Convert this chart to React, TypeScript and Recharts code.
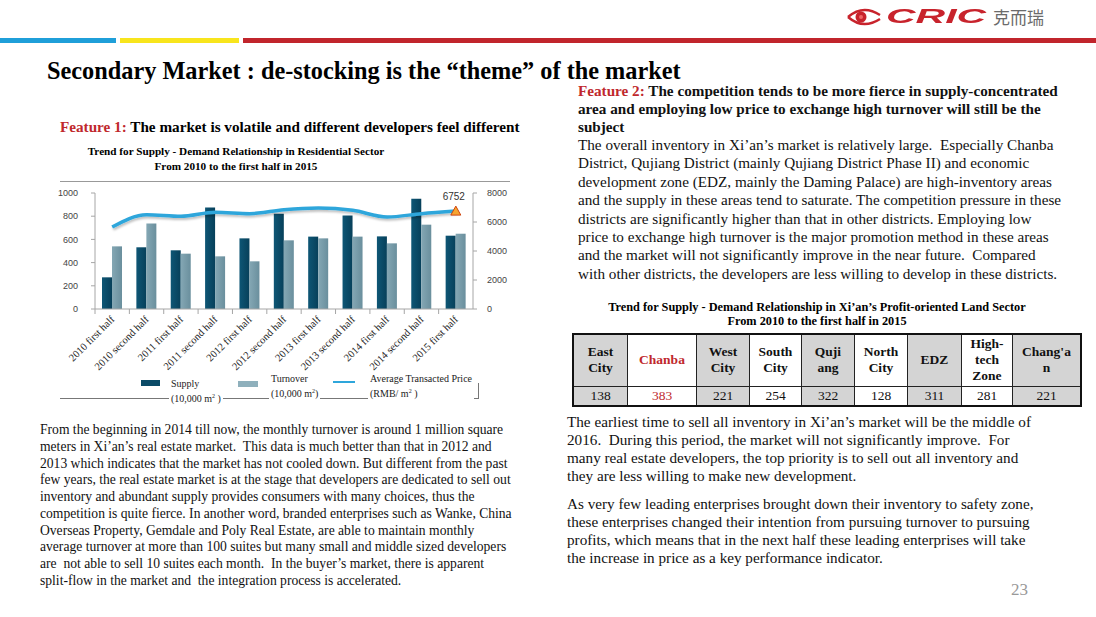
import * as React from "react";
import {
  ComposedChart,
  Bar,
  Line,
  XAxis,
  YAxis,
} from "recharts";

const periods = [
  "2010 first half",
  "2010 second half",
  "2011 first half",
  "2011 second half",
  "2012 first half",
  "2012 second half",
  "2013 first half",
  "2013 second half",
  "2014 first half",
  "2014 second half",
  "2015 first half",
];
const supply = [273, 532, 506, 876, 609, 822, 624, 805, 626, 951, 632];
const turnover = [540, 736, 477, 454, 411, 592, 609, 624, 566, 727, 649];
const avgPrice = [5655, 6506, 6391, 6667, 6575, 6851, 6966, 6805, 6345, 6575, 6752];
const leftTicks = [0, 200, 400, 600, 800, 1000];
const rightTicks = [0, 2000, 4000, 6000, 8000];

const districts = ["East City", "Chanba", "West City", "South City", "Quji ang", "North City", "EDZ", "High- tech Zone", "Chang'a n"];
const inventory = [138, 383, 221, 254, 322, 128, 311, 281, 221];

const chartData = periods.map((name, i) => ({
  name,
  supply: supply[i],
  turnover: turnover[i],
  price: avgPrice[i],
}));

const SERIF = '"Liberation Serif", "Times New Roman", serif';
const RED = "#c0282d";
const SUPPLY_COLOR = "#0b4b67";
const LINE_COLOR = "#2ea6db";

const feature2Lines = [
  "area and employing low price to exchange high turnover will still be the",
  "subject",
];
const feature2Body = [
  "The overall inventory in Xi\u2019an\u2019s market is relatively large.  Especially Chanba",
  "District, Qujiang District (mainly Qujiang District Phase II) and economic",
  "development zone (EDZ, mainly the Daming Palace) are high-inventory areas",
  "and the supply in these areas tend to saturate. The competition pressure in these",
  "districts are significantly higher than that in other districts. Employing low",
  "price to exchange high turnover is the major promotion method in these areas",
  "and the market will not significantly improve in the near future.  Compared",
  "with other districts, the developers are less willing to develop in these districts.",
];
const leftParagraph = [
  "From the beginning in 2014 till now, the monthly turnover is around 1 million square",
  "meters in Xi\u2019an\u2019s real estate market.  This data is much better than that in 2012 and",
  "2013 which indicates that the market has not cooled down. But different from the past",
  "few years, the real estate market is at the stage that developers are dedicated to sell out",
  "inventory and abundant supply provides consumers with many choices, thus the",
  "competition is quite fierce. In another word, branded enterprises such as Wanke, China",
  "Overseas Property, Gemdale and Poly Real Estate, are able to maintain monthly",
  "average turnover at more than 100 suites but many small and middle sized developers",
  "are  not able to sell 10 suites each month.  In the buyer\u2019s market, there is apparent",
  "split-flow in the market and  the integration process is accelerated.",
];
const rightPara1 = [
  "The earliest time to sell all inventory in Xi\u2019an\u2019s market will be the middle of",
  "2016.  During this period, the market will not significantly improve.  For",
  "many real estate developers, the top priority is to sell out all inventory and",
  "they are less willing to make new development.",
];
const rightPara2 = [
  "As very few leading enterprises brought down their inventory to safety zone,",
  "these enterprises changed their intention from pursuing turnover to pursuing",
  "profits, which means that in the next half these leading enterprises will take",
  "the increase in price as a key performance indicator.",
];

function Lines({ lines, left, top, lh, size }: { lines: string[]; left: number; top: number; lh: number; size: number }) {
  return (
    <div style={{ position: "absolute", left, top, fontFamily: SERIF, fontSize: size, lineHeight: `${lh}px`, color: "#111" }}>
      {lines.map((l, i) => (
        <div key={i} style={{ whiteSpace: "pre" }}>{l}</div>
      ))}
    </div>
  );
}

const CategoryTick = (props: any) => {
  const { x, y, payload, width, visibleTicksCount } = props;
  const band = width / visibleTicksCount;
  return (
    <g>
      <line x1={x - band / 2} x2={x - band / 2} y1={y} y2={y + 5} stroke="#a6a6a6" />
      <text
        x={x + 3}
        y={y + 11}
        transform={`rotate(-45, ${x + 3}, ${y + 11})`}
        textAnchor="end"
        fontFamily={SERIF}
        fontSize={10.5}
        fill="#222"
      >
        {payload.value}
      </text>
    </g>
  );
};

const lastIndex = avgPrice.length - 1;
const PriceDot = (props: any) => {
  const { cx, cy, index, value } = props;
  if (index !== lastIndex) return <g key={`d${index}`} />;
  return (
    <g key={`d${index}`}>
      <path d={`M${cx},${cy - 5} L${cx + 5},${cy + 4} L${cx - 5},${cy + 4} Z`} fill="#f6a531" stroke="#d0450f" strokeWidth={1} />
      <text x={cx - 2} y={cy - 11} textAnchor="middle" fontFamily='"Liberation Sans", Arial, sans-serif' fontSize={10} fill="#333">
        {value}
      </text>
    </g>
  );
};

function SupplyChart() {
  return (
    <ComposedChart
      width={470}
      height={196}
      data={chartData}
      margin={{ top: 10, right: 7, bottom: 0, left: 0 }}
      barGap={0}
      barCategoryGap="40%"
    >
      <defs>
        <linearGradient id="gSupply" x1="0" y1="0" x2="1" y2="0">
          <stop offset="0%" stopColor="#0e5675" />
          <stop offset="100%" stopColor="#07405a" />
        </linearGradient>
        <linearGradient id="gTurnover" x1="0" y1="0" x2="1" y2="0">
          <stop offset="0%" stopColor="#84a7b4" />
          <stop offset="100%" stopColor="#6a8f9d" />
        </linearGradient>
        <filter id="lineShadow" x="-5%" y="-50%" width="110%" height="200%">
          <feDropShadow dx="1" dy="2" stdDeviation="1.2" floodColor="#000" floodOpacity="0.25" />
        </filter>
      </defs>
      <XAxis
        dataKey="name"
        interval={0}
        height={70}
        tickSize={0}
        tickMargin={0}
        tick={<CategoryTick />}
        axisLine={{ stroke: "#a6a6a6" }}
      />
      <YAxis
        yAxisId="left"
        width={45}
        domain={[0, 1000]}
        ticks={leftTicks}
        tickSize={4}
        tickMargin={13}
        tick={{ fontFamily: '"Liberation Sans", Arial, sans-serif', fontSize: 9, fill: "#444" }}
        tickLine={{ stroke: "#a6a6a6" }}
        axisLine={{ stroke: "#a6a6a6" }}
      />
      <YAxis
        yAxisId="right"
        orientation="right"
        width={40}
        domain={[0, 8000]}
        ticks={rightTicks}
        tickSize={4}
        tickMargin={10}
        tick={{ fontFamily: '"Liberation Sans", Arial, sans-serif', fontSize: 9, fill: "#444", textAnchor: "start" }}
        tickLine={{ stroke: "#a6a6a6" }}
        axisLine={{ stroke: "#a6a6a6" }}
      />
      <Bar yAxisId="left" dataKey="supply" barSize={10} fill="url(#gSupply)" isAnimationActive={false} />
      <Bar yAxisId="left" dataKey="turnover" barSize={10} fill="url(#gTurnover)" isAnimationActive={false} />
      <Line
        yAxisId="right"
        type="monotone"
        dataKey="price"
        stroke={LINE_COLOR}
        strokeWidth={3.5}
        dot={PriceDot}
        activeDot={false}
        filter="url(#lineShadow)"
        isAnimationActive={false}
      />
    </ComposedChart>
  );
}

function ChartLegend() {
  const txt: React.CSSProperties = { position: "absolute", fontFamily: SERIF, fontSize: 10, lineHeight: "13px", color: "#222", background: "#fff", padding: "0 2px", whiteSpace: "nowrap" };
  return (
    <>
      <div style={{ position: "absolute", left: 60, top: 398, width: 418, height: 1, background: "#777" }} />
      <div style={{ position: "absolute", left: 478, top: 383, width: 1, height: 16, background: "#777" }} />
      <div style={{ position: "absolute", left: 141, top: 380, width: 19, height: 6, background: SUPPLY_COLOR }} />
      <div style={{ ...txt, left: 169, top: 377 }}>Supply<br />(10,000 m<sup style={{ fontSize: 6 }}>2</sup> )</div>
      <div style={{ position: "absolute", left: 238, top: 381, width: 20, height: 6, background: "#8fb0bc" }} />
      <div style={{ ...txt, left: 269, top: 372 }}>Turnover<br />(10,000 m<sup style={{ fontSize: 6 }}>2</sup>)</div>
      <div style={{ position: "absolute", left: 333, top: 381, width: 22, height: 2, background: LINE_COLOR }} />
      <div style={{ ...txt, left: 368, top: 372 }}>Average Transacted  Price<br />(RMB/ m<sup style={{ fontSize: 6 }}>2</sup> )</div>
    </>
  );
}

function Logo() {
  return (
    <div style={{ position: "absolute", left: 846, top: 4, height: 26, width: 240, whiteSpace: "nowrap" }}>
      <svg width={36} height={22} style={{ position: "absolute", left: 0, top: 2 }}>
        <path d="M2,11 Q17,-2 34,9" stroke="#c8232c" strokeWidth={2.4} fill="none" />
        <path d="M2,11 Q17,24 34,13" stroke="#c8232c" strokeWidth={2.4} fill="none" />
        <circle cx={15} cy={11} r={5.5} fill="#c8232c" />
        <circle cx={15} cy={11} r={2} fill="#e66" />
      </svg>
      <div
        style={{
          position: "absolute",
          left: 40,
          top: 0,
          fontFamily: '"Liberation Sans", Arial, sans-serif',
          fontWeight: 900,
          fontStyle: "italic",
          fontSize: 21,
          color: "#c8232c",
          transform: "scaleX(1.95)",
          transformOrigin: "left center",
        }}
      >
        CRIC
      </div>
      <div style={{ position: "absolute", left: 147, top: 2, fontFamily: '"Noto Sans CJK SC", sans-serif', fontSize: 17, lineHeight: "22px", color: "#6b6b6b", whiteSpace: "nowrap" }}>
        克而瑞
      </div>
    </div>
  );
}

function DistrictTable() {
  const colWidths = [53, 68, 52, 51, 52, 52, 53, 50, 67];
  const cell = (i: number): React.CSSProperties => ({
    border: "1px solid #222",
    background: i % 2 === 0 ? "#d4d4d4" : "#fff",
    color: i === 1 ? RED : "#111",
    textAlign: "center",
    padding: 0,
    width: colWidths[i],
  });
  return (
    <table
      style={{
        position: "absolute",
        left: 572,
        top: 333,
        borderCollapse: "collapse",
        border: "2px solid #111",
        fontFamily: SERIF,
        tableLayout: "fixed",
        width: 500,
      }}
    >
      <tbody>
        <tr style={{ height: 52 }}>
          {districts.map((d, i) => {
            const parts = d.split(" ");
            return (
              <td key={d} style={{ ...cell(i), fontWeight: 700, fontSize: 13.5, lineHeight: "16px" }}>
                {parts.length > 1 ? parts.map((p, k) => <div key={k}>{p}</div>) : d}
              </td>
            );
          })}
        </tr>
        <tr style={{ height: 20 }}>
          {inventory.map((v, i) => (
            <td key={i} style={{ ...cell(i), fontSize: 13.5, lineHeight: "18px" }}>{v}</td>
          ))}
        </tr>
      </tbody>
    </table>
  );
}

export default function App() {
  return (
    <div style={{ position: "absolute", left: 0, top: 0, width: 1096, height: 617, background: "#fff", overflow: "hidden", fontFamily: SERIF }}>
      <Logo />
      <div style={{ position: "absolute", left: 0, top: 38, width: 116, height: 5, background: "#1f9fd9" }} />
      <div style={{ position: "absolute", left: 120, top: 38, width: 119, height: 5, background: "#f8e51d" }} />
      <div style={{ position: "absolute", left: 243, top: 38, width: 853, height: 5, background: "#c1252c" }} />

      <div style={{ position: "absolute", left: 47, top: 60, fontSize: 24.3, fontWeight: 700, lineHeight: "22px", color: "#000", whiteSpace: "nowrap" }}>
        Secondary Market : de-stocking is the {"\u201c"}theme{"\u201d"} of the market
      </div>

      <div style={{ position: "absolute", left: 60, top: 118, fontSize: 15.2, fontWeight: 700, lineHeight: "18px", whiteSpace: "nowrap" }}>
        <span style={{ color: RED }}>Feature 1: </span>The market is volatile and different developers feel different
      </div>
      <div style={{ position: "absolute", left: 60, top: 144, width: 352, textAlign: "center", fontSize: 11.2, fontWeight: 700, lineHeight: "15px", whiteSpace: "nowrap" }}>
        Trend for Supply - Demand Relationship in Residential Sector
        <br />
        From 2010 to the first half in 2015
      </div>
      <div style={{ position: "absolute", left: 60, top: 181, width: 450, height: 1, background: "#999" }} />
      <div style={{ position: "absolute", left: 50, top: 183 }}>
        <SupplyChart />
      </div>
      <ChartLegend />

      <div style={{ position: "absolute", left: 578, top: 82, fontSize: 15.2, fontWeight: 700, lineHeight: "18.2px", whiteSpace: "nowrap", color: "#111" }}>
        <div>
          <span style={{ color: RED }}>Feature 2: </span>The competition tends to be more fierce in supply-concentrated
        </div>
        {feature2Lines.map((l) => (
          <div key={l}>{l}</div>
        ))}
      </div>
      <Lines lines={feature2Body} left={578} top={136} lh={18.4} size={15.2} />

      <div style={{ position: "absolute", left: 562, top: 300, width: 510, textAlign: "center", fontSize: 12.3, fontWeight: 700, lineHeight: "14px", whiteSpace: "nowrap" }}>
        Trend for Supply - Demand Relationship in Xi{"\u2019"}an{"\u2019"}s Profit-oriented Land Sector
        <br />
        From 2010 to the first half in 2015
      </div>
      <DistrictTable />

      <Lines lines={leftParagraph} left={40} top={422} lh={16.75} size={13.6} />
      <Lines lines={rightPara1} left={567} top={413} lh={18} size={15.2} />
      <Lines lines={rightPara2} left={567} top={495} lh={18} size={15.2} />

      <div style={{ position: "absolute", left: 1011, top: 580, fontSize: 17, color: "#999" }}>23</div>
    </div>
  );
}
